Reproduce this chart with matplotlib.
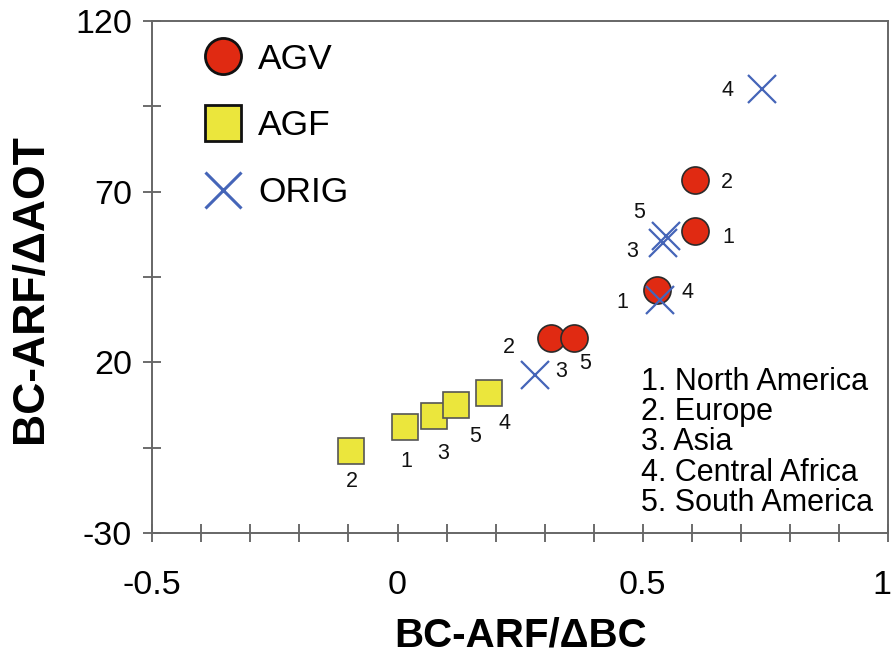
import matplotlib
matplotlib.use("Agg")
import matplotlib.pyplot as plt
import matplotlib.transforms as mtransforms
from matplotlib.lines import Line2D
from matplotlib.ticker import FixedLocator, MultipleLocator, FuncFormatter

plt.rcParams['font.family'] = ['Liberation Sans', 'DejaVu Sans']

# Data (region numbers: 1 North America, 2 Europe, 3 Asia, 4 Central Africa, 5 South America)
regions = ["1", "2", "3", "4", "5"]
agv_x = [0.606, 0.606, 0.313, 0.529, 0.360]
agv_y = [58.5, 73.4, 27.1, 41.2, 27.1]
agf_x = [0.015, -0.095, 0.074, 0.186, 0.119]
agf_y = [1.0, -6.0, 4.3, 11.0, 7.5]
orig_x = [0.535, 0.280, 0.541, 0.743, 0.547]
orig_y = [38.3, 16.3, 55.0, 100.1, 57.0]

# label offsets (points) for the region numbers
agv_off = [(24, -5), (23, -2), (7, -24), (22, -2), (8, -18)]
agf_off = [(1, -25), (1, -22), (7, -27), (11, -22), (14, -23)]
orig_off = [(-27, -2), (-19, 20), (-22, -6), (-25, -1), (-19, 17)]

x_ticks = [-0.5, 0, 0.5, 1]
y_ticks = [-30, 20, 70, 120]
y_minor = [-5, 45, 95]
region_text = "1. North America\n2. Europe\n3. Asia\n4. Central Africa\n5. South America"

fig = plt.figure(figsize=(8.92, 6.55), dpi=100)
ax = fig.add_axes([0.1707, 0.1863, 0.8248, 0.7817])

red = '#e02a12'
yellow = '#ebe63c'
blue = '#4565b8'

ax.plot(agv_x, agv_y, 'o', ms=19.5, mfc=red, mec='#2a2a2a', mew=1.2, ls='none', zorder=3)
ax.plot(agf_x, agf_y, 's', ms=19, mfc=yellow, mec='#555555', mew=1.2, ls='none', zorder=4)
ax.plot(orig_x, orig_y, 'x', ms=20, mec=blue, mew=1.6, ls='none', zorder=5)

for xs, ys, offs in [(agv_x, agv_y, agv_off), (agf_x, agf_y, agf_off), (orig_x, orig_y, orig_off)]:
    for xv, yv, lab, off in zip(xs, ys, regions, offs):
        ax.annotate(lab, (xv, yv), xytext=off, textcoords='offset points',
                    ha='center', va='center', fontsize=15.5, color='#111111', zorder=6)

ax.set_xlim(-0.5, 1)
ax.set_ylim(-30, 120)
ax.xaxis.set_major_locator(FixedLocator(x_ticks))
ax.xaxis.set_minor_locator(MultipleLocator(0.1))
ax.yaxis.set_major_locator(FixedLocator(y_ticks))
ax.yaxis.set_minor_locator(FixedLocator(y_minor))
ax.xaxis.set_major_formatter(FuncFormatter(lambda v, p: ('%g' % v)))
ax.yaxis.set_major_formatter(FuncFormatter(lambda v, p: ('%g' % v)))
ax.tick_params(axis='both', which='both', direction='inout', length=13, width=1.1,
               color='#444444', labelsize=24.5, top=False, right=False)
ax.tick_params(axis='x', which='major', pad=20)
ax.tick_params(axis='y', which='major', pad=8)
for s in ax.spines.values():
    s.set_color('#666666')
    s.set_linewidth(1.4)

ax.set_xlabel("BC-ARF/ΔBC", fontsize=29, fontweight='bold', labelpad=11)
ax.set_ylabel("BC-ARF/ΔAOT", fontsize=32, fontweight='bold')
ax.yaxis.set_label_coords(-0.138, 0.477)

fig.canvas.draw()
last = ax.get_xticklabels()[-1]
last.set_transform(last.get_transform() + mtransforms.ScaledTranslation(-6 / 100, 0, fig.dpi_scale_trans))

handles = [
    Line2D([], [], marker='o', ls='none', ms=26, mfc=red, mec='#111111', mew=2, label='AGV'),
    Line2D([], [], marker='s', ls='none', ms=26, mfc=yellow, mec='#111111', mew=2, label='AGF'),
    Line2D([], [], marker='x', ls='none', ms=26, mec=blue, mew=2.2, label='ORIG'),
]
ax.legend(handles=handles, loc='upper left', bbox_to_anchor=(0.048, 0.985), frameon=False,
          fontsize=25.5, labelspacing=0.95, handletextpad=0.4, handlelength=1.2, borderaxespad=0)

ax.text(0.664, 0.325, region_text, transform=ax.transAxes, ha='left', va='top',
        fontsize=22, linespacing=1.02)

fig.savefig("out.png", dpi=100)
